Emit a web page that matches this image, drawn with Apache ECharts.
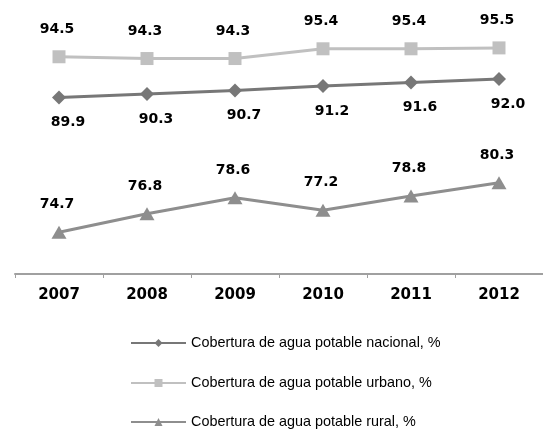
<!DOCTYPE html>
<html>
<head>
<meta charset="utf-8">
<title>Cobertura de agua potable</title>
<script src="https://cdn.jsdelivr.net/npm/echarts@6/dist/echarts.min.js"></script>
<style>
  html, body { margin: 0; padding: 0; background: #fff; }
  #chart { width: 543px; height: 429px; }
</style>
</head>
<body>
<div id="chart"></div>
<script>
/* 年份 */
var years = ['2007', '2008', '2009', '2010', '2011', '2012'];

/* 三条序列 */
var nacional = [89.9, 90.3, 90.7, 91.2, 91.6, 92.0];
var urbano = [94.5, 94.3, 94.3, 95.4, 95.4, 95.5];
var rural = [74.7, 76.8, 78.6, 77.2, 78.8, 80.3];

var names = [
    'Cobertura de agua potable nacional, %',
    'Cobertura de agua potable urbano, %',
    'Cobertura de agua potable rural, %'
];

var labelFont = {
    fontFamily: 'DejaVu Sans',
    fontWeight: 'bold',
    fontSize: 14,
    color: '#000'
};

function fmt(p) {
    return p.value.toFixed(1);
}

/* 每个图例单独一行 */
function makeLegend(name, top) {
    return {
        orient: 'vertical',
        left: 130,
        top: top,
        padding: 0,
        itemWidth: 55,
        itemHeight: 10,
        textStyle: {
            fontFamily: 'Liberation Sans',
            fontSize: 14.4,
            lineHeight: 16,
            color: '#000'
        },
        data: [name]
    };
}

var chart = echarts.init(document.getElementById('chart'));
var option = {
    backgroundColor: '#fff',
    animation: false,
    grid: {
        left: 15,
        top: 8,
        width: 531,
        height: 266
    },
    legend: [
        makeLegend(names[0], 335),
        makeLegend(names[1], 375),
        makeLegend(names[2], 414)
    ],
    xAxis: {
        type: 'category',
        data: years,
        boundaryGap: true,
        axisLine: { lineStyle: { color: '#a0a0a0', width: 2 } },
        axisTick: { show: true, length: 4, lineStyle: { color: '#a0a0a0', width: 1 } },
        axisLabel: {
            margin: 14,
            fontFamily: 'DejaVu Sans',
            fontWeight: 'bold',
            fontSize: 15,
            color: '#000'
        }
    },
    yAxis: {
        type: 'value',
        min: 70,
        max: 100,
        show: false,
        splitLine: { show: false }
    },
    series: [
        {
            name: names[0],
            type: 'line',
            data: nacional,
            symbol: 'diamond',
            symbolSize: 14,
            color: '#777777',
            lineStyle: { width: 3, color: '#777777' },
            label: Object.assign({ show: true, position: 'bottom', distance: 11, offset: [9, 0], formatter: fmt }, labelFont)
        },
        {
            name: names[1],
            type: 'line',
            data: urbano,
            symbol: 'rect',
            symbolSize: 13,
            color: '#c0c0c0',
            lineStyle: { width: 3, color: '#c0c0c0' },
            label: Object.assign({ show: true, position: 'top', distance: 14, offset: [-2, 0], formatter: fmt }, labelFont)
        },
        {
            name: names[2],
            type: 'line',
            data: rural,
            symbol: 'triangle',
            symbolSize: [15, 13],
            color: '#8e8e8e',
            lineStyle: { width: 3, color: '#8e8e8e' },
            label: Object.assign({ show: true, position: 'top', distance: 14, offset: [-2, 0], formatter: fmt }, labelFont)
        }
    ]
};
chart.setOption(option);
</script>
</body>
</html>
